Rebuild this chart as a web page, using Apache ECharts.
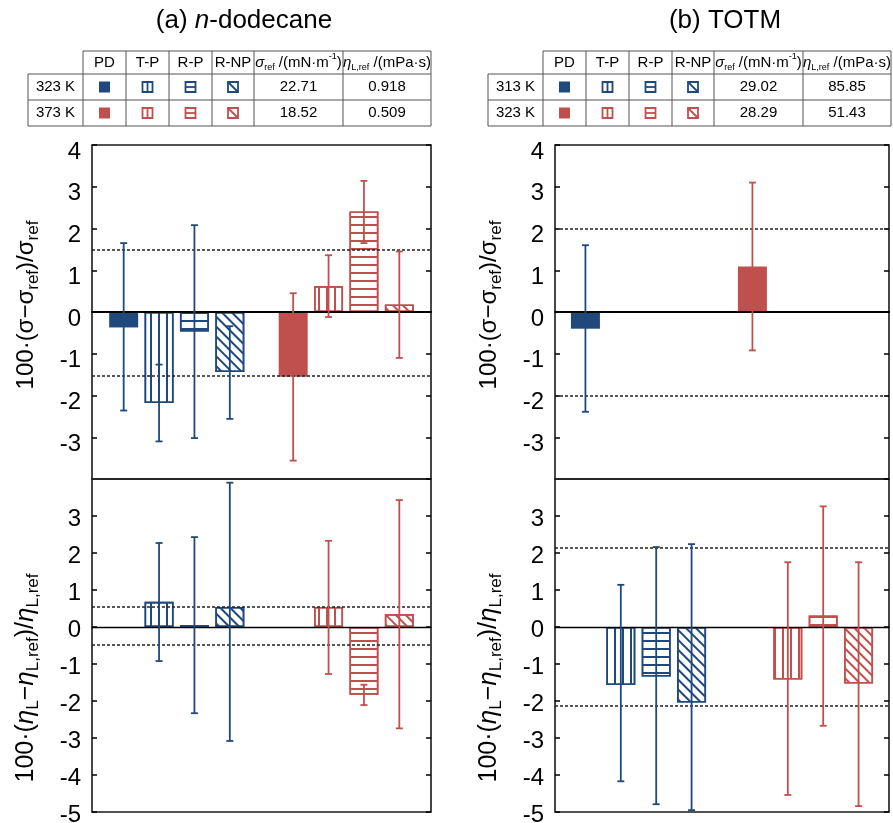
<!DOCTYPE html>
<html>
<head>
<meta charset="utf-8">
<script src="https://cdn.jsdelivr.net/npm/echarts@6/dist/echarts.min.js"></script>
<style>
html, body { margin: 0; padding: 0; background: #fff; }
#main { width: 893px; height: 823px; }
</style>
</head>
<body>
<div id="main"></div>
<script>
// 方法 & 温度
const methods = ['PD', 'T-P', 'R-P', 'R-NP']
const tempsA = ['323 K', '373 K']
const tempsB = ['313 K', '323 K']
const sigmaRefA = ['22.71', '18.52']
const etaRefA = ['0.918', '0.509']
const sigmaRefB = ['29.02', '28.29']
const etaRefB = ['85.85', '51.43']

// 每行一个方法, 列: [低温, 高温]
const sigA = [[-0.37, -1.55], [-2.18, 0.62], [-0.47, 2.41], [-1.44, 0.18]]
const sigAUp = [[2.02, 2.00], [0.92, 0.74], [2.55, 0.73], [1.10, 1.27]]
const sigADown = [[1.99, 2.01], [0.92, 0.74], [2.55, 0.76], [1.12, 1.28]]

const etaA = [[null, null], [0.68, 0.54], [0.05, -1.83], [0.54, 0.35]]
const etaAUp = [[0, 0], [1.59, 1.79], [2.38, 0.27], [3.36, 3.08]]
const etaADown = [[0, 0], [1.60, 1.81], [2.38, 0.28], [3.62, 3.09]]

const sigB = [[-0.40, 1.09], [null, null], [null, null], [null, null]]
const sigBUp = [[2.00, 2.01], [0, 0], [0, 0], [0, 0]]
const sigBDown = [[1.99, 2.01], [0, 0], [0, 0], [0, 0]]

const etaB = [[null, null], [-1.57, -1.42], [-1.34, 0.31], [-2.04, -1.53]]
const etaBUp = [[0, 0], [2.71, 3.17], [3.50, 2.95], [4.28, 3.28]]
const etaBDown = [[0, 0], [2.60, 3.12], [3.45, 2.98], [2.91, 3.31]]

// 虚线范围
const limSigA = [1.49, -1.53]
const limEtaA = [0.56, -0.49]
const limSigB = [2.0, -2.0]
const limEtaB = [2.14, -2.13]

const colors = ['#1F497D', '#C0504D']
const FONT = 'Liberation Sans'
const BAR_W = 29
const BAR_GAP = 0.22

const decals = [
  null,
  { symbol: 'rect', symbolSize: 1, dashArrayX: [1, 0], dashArrayY: [1.5, 5.2], rotation: Math.PI / 2 },
  { symbol: 'rect', symbolSize: 1, dashArrayX: [1, 0], dashArrayY: [1.5, 5.2], rotation: 0 },
  { symbol: 'rect', symbolSize: 1, dashArrayX: [1, 0], dashArrayY: [1.3, 4.2], rotation: Math.PI / 4 }
]

const panels = [
  { box: { left: 92, top: 145, width: 339, height: 334 }, vals: sigA, up: sigAUp, down: sigADown, lim: limSigA, min: -4, max: 4, zeroW: 2.2, cats: tempsA },
  { box: { left: 92, top: 479, width: 339, height: 333 }, vals: etaA, up: etaAUp, down: etaADown, lim: limEtaA, min: -5, max: 4, zeroW: 1.4, cats: tempsA },
  { box: { left: 555, top: 145, width: 334, height: 334 }, vals: sigB, up: sigBUp, down: sigBDown, lim: limSigB, min: -4, max: 4, zeroW: 2.2, cats: tempsB },
  { box: { left: 555, top: 479, width: 334, height: 333 }, vals: etaB, up: etaBUp, down: etaBDown, lim: limEtaB, min: -5, max: 4, zeroW: 1.4, cats: tempsB }
]

function barStyle(m, t) {
  let c = colors[t]
  if (m === 0) return { color: c, borderWidth: 0 }
  return { color: '#fff', borderColor: c, borderWidth: 1.6, decal: Object.assign({ color: c }, decals[m]) }
}

function yAxisOf(i, p, pos) {
  let left = pos === 'left'
  let lower = p.min === -5
  return {
    type: 'value', gridIndex: i, position: pos, min: p.min, max: p.max, interval: 1,
    axisLine: { show: false },
    splitLine: { show: false },
    axisTick: { show: true, inside: true, length: 5, lineStyle: { color: '#000', width: 1.5 } },
    axisLabel: {
      show: left, fontSize: 24, fontFamily: FONT, color: '#000', margin: 11,
      verticalAlign: 'top', lineHeight: lower ? 7 : 14,
      showMinLabel: lower, showMaxLabel: !lower
    }
  }
}

function errorSeries(i, p) {
  let items = []
  p.vals.forEach((row, m) => {
    row.forEach((v, t) => {
      if (v != null) items.push([t, v, p.up[m][t], p.down[m][t], m])
    })
  })
  return {
    type: 'custom', xAxisIndex: i, yAxisIndex: 2 * i, z: 6, silent: true,
    data: items,
    renderItem: function (params, api) {
      let t = api.value(0), v = api.value(1), u = api.value(2), d = api.value(3), m = api.value(4)
      let step = BAR_W * (1 + BAR_GAP)
      let x = api.coord([t, v])[0] + (m - 1.5) * step
      let yHi = api.coord([t, v + u])[1]
      let yLo = api.coord([t, v - d])[1]
      let st = { stroke: colors[t], lineWidth: 1.8 }
      return {
        type: 'group',
        children: [
          { type: 'line', shape: { x1: x, y1: yHi, x2: x, y2: yLo }, style: st },
          { type: 'line', shape: { x1: x - 3.5, y1: yHi, x2: x + 3.5, y2: yHi }, style: st },
          { type: 'line', shape: { x1: x - 3.5, y1: yLo, x2: x + 3.5, y2: yLo }, style: st }
        ]
      }
    }
  }
}

function txt(x, y, text, size, extra) {
  return {
    type: 'text', x: x, y: y, silent: true,
    style: Object.assign({ text: text, fontSize: size, fontFamily: FONT, fill: '#000', align: 'center', verticalAlign: 'middle' }, extra || {})
  }
}

function seg(x1, y1, x2, y2, stroke, w) {
  return { type: 'line', silent: true, shape: { x1: x1, y1: y1, x2: x2, y2: y2 }, style: { stroke: stroke, lineWidth: w } }
}

// 表格 (图例)
function buildTable(ox, temps, sigRef, etaRef) {
  let xs = [28, 83, 126, 169, 212, 254, 343, 431].map(v => v + ox)
  let ys = [51, 74, 100, 126]
  let g = []
  let lc = '#555'
  g.push(seg(xs[1], ys[0], xs[7], ys[0], lc, 1))
  for (let r = 1; r < 4; r++) g.push(seg(xs[0], ys[r], xs[7], ys[r], lc, 1))
  g.push(seg(xs[0], ys[1], xs[0], ys[3], lc, 1))
  for (let c = 1; c < 8; c++) g.push(seg(xs[c], ys[0], xs[c], ys[3], lc, 1))
  let hy = (ys[0] + ys[1]) / 2
  methods.forEach((name, m) => {
    g.push(txt((xs[m + 1] + xs[m + 2]) / 2, hy, name, 15))
  })
  g.push(txt((xs[5] + xs[6]) / 2, hy, '{g|σ}{s|ref} /(mN·m{p|-1})', 15, {
    lineHeight: 20,
    rich: {
      g: { fontSize: 15, fontFamily: FONT, fontStyle: 'italic', lineHeight: 20 },
      s: { fontSize: 9, fontFamily: FONT, verticalAlign: 'bottom', lineHeight: 12 },
      p: { fontSize: 9, fontFamily: FONT, verticalAlign: 'top', lineHeight: 12 }
    }
  }))
  g.push(txt((xs[6] + xs[7]) / 2, hy, '{g|η}{s|L,ref} /(mPa·s)', 15, {
    lineHeight: 20,
    rich: {
      g: { fontSize: 15, fontFamily: FONT, fontStyle: 'italic', lineHeight: 20 },
      s: { fontSize: 9, fontFamily: FONT, verticalAlign: 'bottom', lineHeight: 12 }
    }
  }))
  temps.forEach((tname, t) => {
    let cy = (ys[t + 1] + ys[t + 2]) / 2
    let c = colors[t]
    g.push(txt((xs[0] + xs[1]) / 2, cy, tname, 15))
    g.push(txt((xs[5] + xs[6]) / 2, cy, sigRef[t], 15))
    g.push(txt((xs[6] + xs[7]) / 2, cy, etaRef[t], 15))
    methods.forEach((name, m) => {
      let cx = (xs[m + 1] + xs[m + 2]) / 2
      if (m === 0) {
        g.push({ type: 'rect', silent: true, shape: { x: cx - 5.5, y: cy - 5.5, width: 11, height: 11 }, style: { fill: c } })
        return
      }
      g.push({ type: 'rect', silent: true, shape: { x: cx - 5, y: cy - 5, width: 10, height: 10 }, style: { fill: '#fff', stroke: c, lineWidth: 1.8 } })
      if (m === 1) g.push(seg(cx, cy - 5, cx, cy + 5, c, 1.8))
      if (m === 2) g.push(seg(cx - 5, cy, cx + 5, cy, c, 1.8))
      if (m === 3) g.push(seg(cx - 5, cy - 5, cx + 5, cy + 5, c, 1.8))
    })
  })
  return g
}

const titleSig = '100·(σ−σ{s|ref})/σ{s|ref}'
const titleEta = '100·({e|η}{s|L}−{e|η}{s|L,ref})/{e|η}{s|L,ref}'
const titleRich = {
  s: { fontSize: 17, fontFamily: FONT, verticalAlign: 'bottom', lineHeight: 16 },
  e: { fontSize: 26, fontFamily: FONT, fontStyle: 'italic', lineHeight: 32 }
}

let option = {
  animation: false,
  backgroundColor: '#fff',
  grid: [], xAxis: [], yAxis: [], series: [], graphic: []
}

panels.forEach((p, i) => {
  option.grid.push(Object.assign({ show: true, borderColor: '#1a1a1a', borderWidth: 1.6, containLabel: false, outerBoundsMode: 'none' }, p.box))
  option.xAxis.push({
    type: 'category', gridIndex: i, data: p.cats, z: 5,
    axisTick: { show: false }, axisLabel: { show: false }, splitLine: { show: false },
    axisLine: { show: true, onZero: true, lineStyle: { color: '#000', width: p.zeroW } }
  })
  option.yAxis.push(yAxisOf(i, p, 'left'), yAxisOf(i, p, 'right'))
  methods.forEach((name, m) => {
    let s = {
      type: 'bar', name: name, xAxisIndex: i, yAxisIndex: 2 * i, z: 2,
      barWidth: BAR_W, barGap: (BAR_GAP * 100) + '%',
      data: p.vals[m].map((v, t) => v == null ? '-' : { value: v, itemStyle: barStyle(m, t) })
    }
    if (m === 0) {
      s.markLine = {
        silent: true, symbol: ['none', 'none'], label: { show: false },
        lineStyle: { color: '#222', type: [3, 2], width: 1.5 },
        data: p.lim.map(v => ({ yAxis: v }))
      }
    }
    option.series.push(s)
  })
  option.series.push(errorSeries(i, p))
})

option.graphic.push(txt(244, 21, '(a) {i|n}-dodecane', 26, {
  rich: { i: { fontSize: 26, fontFamily: FONT, fontStyle: 'italic' } }
}))
option.graphic.push(txt(725, 21, '(b) TOTM', 26))
option.graphic = option.graphic.concat(buildTable(0, tempsA, sigmaRefA, etaRefA))
option.graphic = option.graphic.concat(buildTable(460, tempsB, sigmaRefB, etaRefB))
option.graphic.push(Object.assign(txt(26, 305, titleSig, 24, { lineHeight: 32, rich: titleRich }), { rotation: Math.PI / 2 }))
option.graphic.push(Object.assign(txt(26, 678, titleEta, 25, { lineHeight: 32, rich: titleRich }), { rotation: Math.PI / 2 }))
option.graphic.push(Object.assign(txt(489, 305, titleSig, 24, { lineHeight: 32, rich: titleRich }), { rotation: Math.PI / 2 }))
option.graphic.push(Object.assign(txt(489, 678, titleEta, 25, { lineHeight: 32, rich: titleRich }), { rotation: Math.PI / 2 }))

let myChart = echarts.init(document.getElementById('main'))
myChart.setOption(option)
window.addEventListener('resize', function () {
  myChart.resize()
})
</script>
</body>
</html>
